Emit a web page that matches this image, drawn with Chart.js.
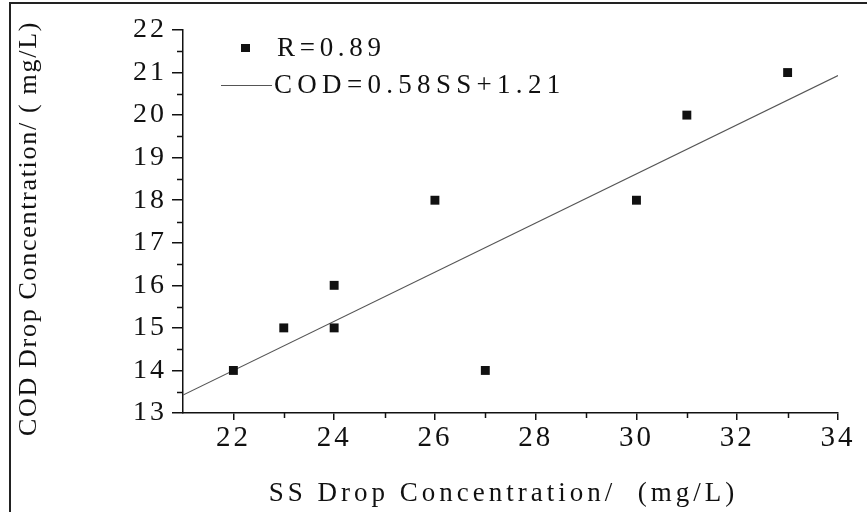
<!DOCTYPE html>
<html>
<head>
<meta charset="utf-8">
<script src="https://cdn.jsdelivr.net/npm/chart.js@4/dist/chart.umd.min.js"></script>
<style>
  html, body { margin: 0; padding: 0; background: #ffffff; }
  #wrap { width: 867px; height: 512px; position: relative; }
</style>
</head>
<body>
<div id="wrap"><canvas id="c" width="867" height="512"></canvas></div>
<script>
// ---- data ----
const ssValues  = [22, 23, 24, 24, 26, 27, 30, 31, 33];
const codValues = [14, 15, 15, 16, 18, 14, 18, 20, 21];
const fitX = [21, 34];
const fitY = [13.42, 20.93];
const pointLabel = 'R=0.89';
const fitLabel = 'COD=0.58SS+1.21';
const xTicks = [22, 24, 26, 28, 30, 32, 34];
const xMinorTicks = [23, 25, 27, 29, 31, 33];
const yTicks = [13, 14, 15, 16, 17, 18, 19, 20, 21, 22];
const yMinorTicks = [13.5, 14.5, 15.5, 16.5, 17.5, 18.5, 19.5, 20.5, 21.5];
const xTitle = 'SS Drop Concentration/  (mg/L)';
const yTitle = 'COD Drop Concentration/ ( mg/L)';

const FONT = "'Liberation Serif', 'Times New Roman', 'DejaVu Serif', serif";
const INK = '#111111';

const spacingPlugin = {
  id: 'spacing',
  beforeDraw(chart) {
    chart.ctx.letterSpacing = '3px';
    for (const s of Object.values(chart.scales)) {
      if (!s.__patched) {
        const orig = s.drawTitle;
        s.drawTitle = function (...a) {
          const c = this.ctx;
          c.save();
          if (this.id === 'x') {
            c.letterSpacing = '4px';
            c.translate(-7, 0);
          } else {
            c.letterSpacing = '1.7px';
            c.translate(0, 7);
          }
          orig.apply(this, a);
          c.restore();
        };
        s.__patched = true;
      }
    }
  },
  afterDraw(chart) {
    const ctx = chart.ctx;
    const xs = chart.scales.x, ys = chart.scales.y;
    const area = chart.chartArea;
    ctx.save();
    ctx.strokeStyle = INK;
    ctx.lineWidth = 1.5;
    ctx.beginPath();
    xMinorTicks.forEach(v => {
      const px = Math.round(xs.getPixelForValue(v)) + 0.5;
      ctx.moveTo(px, area.bottom);
      ctx.lineTo(px, area.bottom + 5);
    });
    yMinorTicks.forEach(v => {
      const py = Math.round(ys.getPixelForValue(v)) + 0.5;
      ctx.moveTo(area.left, py);
      ctx.lineTo(area.left - 6, py);
    });
    ctx.stroke();
    ctx.lineWidth = 2;
    ctx.strokeStyle = '#222';
    ctx.beginPath();
    ctx.moveTo(10, 512);
    ctx.lineTo(10, 3);
    ctx.lineTo(867, 3);
    ctx.stroke();
    const ds = chart.data.datasets;
    ctx.fillStyle = INK;
    ctx.fillRect(241, 44, 9, 8);
    ctx.strokeStyle = '#555';
    ctx.lineWidth = 1;
    ctx.beginPath();
    ctx.moveTo(221, 85.5);
    ctx.lineTo(272, 85.5);
    ctx.stroke();
    ctx.font = '27px ' + FONT;
    ctx.textBaseline = 'middle';
    ctx.textAlign = 'left';
    ctx.letterSpacing = '4.7px';
    ctx.fillText(ds[0].label, 277, 49);
    ctx.letterSpacing = '5.3px';
    ctx.fillText(ds[1].label, 274, 86);
    ctx.letterSpacing = '0px';
    ctx.restore();
  }
};

function build() {
  new Chart(document.getElementById('c'), {
    type: 'scatter',
    data: {
      datasets: [
        {
          label: pointLabel,
          data: ssValues.map((x, i) => ({ x, y: codValues[i] })),
          pointStyle: 'rect',
          pointRadius: 6.3,
          pointHoverRadius: 6.3,
          backgroundColor: INK,
          borderColor: INK,
          borderWidth: 0,
          showLine: false
        },
        {
          label: fitLabel,
          type: 'line',
          data: fitX.map((x, i) => ({ x, y: fitY[i] })),
          borderColor: '#555555',
          borderWidth: 1.1,
          pointRadius: 0,
          fill: false,
          tension: 0
        }
      ]
    },
    options: {
      responsive: false,
      animation: false,
      events: [],
      layout: { padding: { top: 30, right: 29, left: 0, bottom: 0 } },
      plugins: {
        legend: { display: false },
        tooltip: { enabled: false },
        title: { display: false }
      },
      scales: {
        x: {
          type: 'linear',
          min: 21,
          max: 34,
          afterBuildTicks: s => { s.ticks = xTicks.map(v => ({ value: v })); },
          afterFit: s => { s.height = 99; },
          grid: { display: true, drawOnChartArea: false, drawTicks: true, tickLength: 7, color: INK, lineWidth: 1.5 },
          border: { display: true, color: INK, width: 1.5 },
          ticks: { color: INK, font: { family: FONT, size: 29 }, padding: 1, maxRotation: 0, autoSkip: false },
          title: { display: true, text: xTitle, color: INK, font: { family: FONT, size: 27 }, padding: { top: 0, bottom: 2 } }
        },
        y: {
          type: 'linear',
          min: 13,
          max: 22,
          afterBuildTicks: s => { s.ticks = yTicks.map(v => ({ value: v })); },
          afterFit: s => { s.width = 183; },
          grid: { display: true, drawOnChartArea: false, drawTicks: true, tickLength: 11, color: INK, lineWidth: 1.5 },
          border: { display: true, color: INK, width: 1.5 },
          ticks: { color: INK, font: { family: FONT, size: 28 }, padding: 5, autoSkip: false },
          title: { display: true, text: yTitle, color: INK, font: { family: FONT, size: 26 }, padding: { top: 14, bottom: 0 } }
        }
      }
    },
    plugins: [spacingPlugin]
  });
}

if (document.fonts && document.fonts.load) {
  Promise.all([
    document.fonts.load("26px 'Liberation Serif'"),
    document.fonts.load("26px 'Times New Roman'")
  ]).then(build, build);
} else {
  build();
}
</script>
</body>
</html>
